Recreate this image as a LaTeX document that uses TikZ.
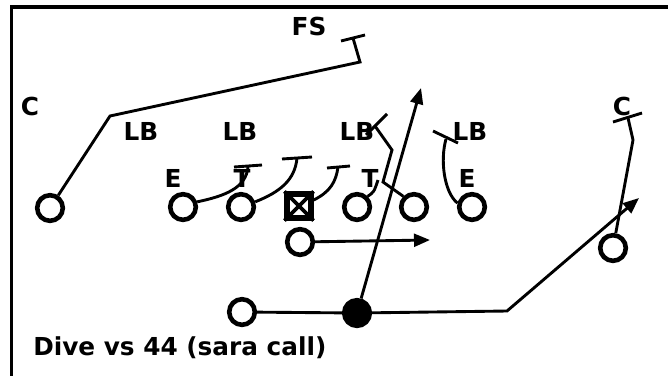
\documentclass[tikz,border=0pt]{standalone}
\usepackage{fontspec}
\setmainfont{DejaVu Sans}
\usetikzlibrary{positioning,arrows.meta}

\begin{document}
\begin{tikzpicture}[x=0.025cm, y=-0.025cm,
    man/.style={circle, draw, line width=0.115cm, minimum size=0.64cm, inner sep=0pt},
    ctrbox/.style={rectangle, draw, line width=0.13cm, minimum size=0.6cm, inner sep=0pt},
    lbl/.style={font=\fontsize{17.6}{20}\selectfont\bfseries, inner sep=0pt, anchor=base},
    route/.style={line width=0.072cm},
    runarrow/.style={line width=0.072cm, -{Triangle[length=0.4cm, width=0.32cm]}}]
	\useasboundingbox (0,0) rectangle (668,376);
	\draw[line width=0.08cm] (10,7) -- (668,7);
	\draw[line width=0.07cm] (11.5,7) -- (11.5,376);

	% offense
	\node[man] (wrL) at (50,208) {};
	\node[man] (teL) at (183,207) {};
	\node[man] (lg) at (241,207) {};
	\node[ctrbox] (ctr) at (299,206) {};
	\node[man] (rg) at (357,207) {};
	\node[man] (rt) at (414,207) {};
	\node[man] (teR) at (472,207) {};
	\node[man] (fb) at (300,242) {};
	\node[man] (qb) at (242,312) {};
	\node[man, fill=black] (ball) at (357,313) {};
	\node[man] (wrR) at (613,248) {};
	\draw[line width=0.09cm] (ctr.north west) -- (ctr.south east);
	\draw[line width=0.09cm] (ctr.north east) -- (ctr.south west);

	% defense
	\node[lbl] (cL) at (30,115) {C};
	\node[lbl] (fs) at (309,35) {FS};
	\node[lbl] (cR) at (622,115) {C};
	\node[lbl] (lb1) at (141,140) {LB};
	\node[lbl] (lb2) at (240,140) {LB};
	\node[lbl] (lb3) at (357,140) {LB};
	\node[lbl] (lb4) at (470,140) {LB};
	\node[lbl] (eL) at (173,187) {E};
	\node[lbl] (tL) at (242,187) {T};
	\node[lbl] (tR) at (370,187) {T};
	\node[lbl] (eR) at (467,187) {E};

	% blocks
	\coordinate (w1) at (110,116);
	\coordinate (w2) at (360,62);
	\coordinate (w3) at (353,38);
	\draw[route] (wrL) -- (w1) -- (w2) -- (w3);
	\draw[route] (w3) ++(-12,3) -- ++(24,-6);
	\coordinate (b1) at (248,167);
	\draw[route] (teL.20) .. controls (225,196) and (246,188) .. (b1);
	\draw[route] (b1) ++(-14,0) -- ++(28,-2);
	\coordinate (b2) at (297,158);
	\draw[route] (lg.20) .. controls (280,192) and (295,180) .. (b2);
	\draw[route] (b2) ++(-15,1) -- ++(30,-2);
	\coordinate (b3) at (338,167);
	\draw[route] (ctr.east) ++(0,-6) .. controls (330,192) and (336,182) .. (b3);
	\draw[route] (b3) ++(-11,1) -- ++(23,-2);
	\coordinate (b4) at (378,180);
	\draw[route] (rg.45) .. controls (374,192) .. (b4);
	\coordinate (b5) at (375,126);
	\draw[route] (rt.135) -- (383,182) -- (392,150) -- (b5);
	\draw[route] (387,114) -- (b5) -- (366,135);
	\coordinate (b6) at (446,139);
	\draw[route] (teR.165) .. controls (444,192) and (440,160) .. (b6);
	\draw[route] (b6) ++(-13,-8) -- ++(25,12);
	\coordinate (b7) at (628,118);
	\draw[route] (wrR) -- (633,140) -- (b7);
	\draw[route] (b7) ++(-15,4) -- ++(29,-9);

	% runs
	\coordinate (c1) at (507,311);
	\coordinate (c2) at (639,198);
	\coordinate (a1) at (421,88);
	\coordinate (f1) at (430,240);
	\draw[route] (qb) -- (ball);
	\draw[runarrow] (ball) -- (c1) -- (c2);
	\draw[runarrow] (ball) -- (a1);
	\draw[runarrow] (fb) -- (f1);

	\node[lbl, anchor=base west] (title) at (33,355) {Dive vs 44 (sara call)};
\end{tikzpicture}
\end{document}
